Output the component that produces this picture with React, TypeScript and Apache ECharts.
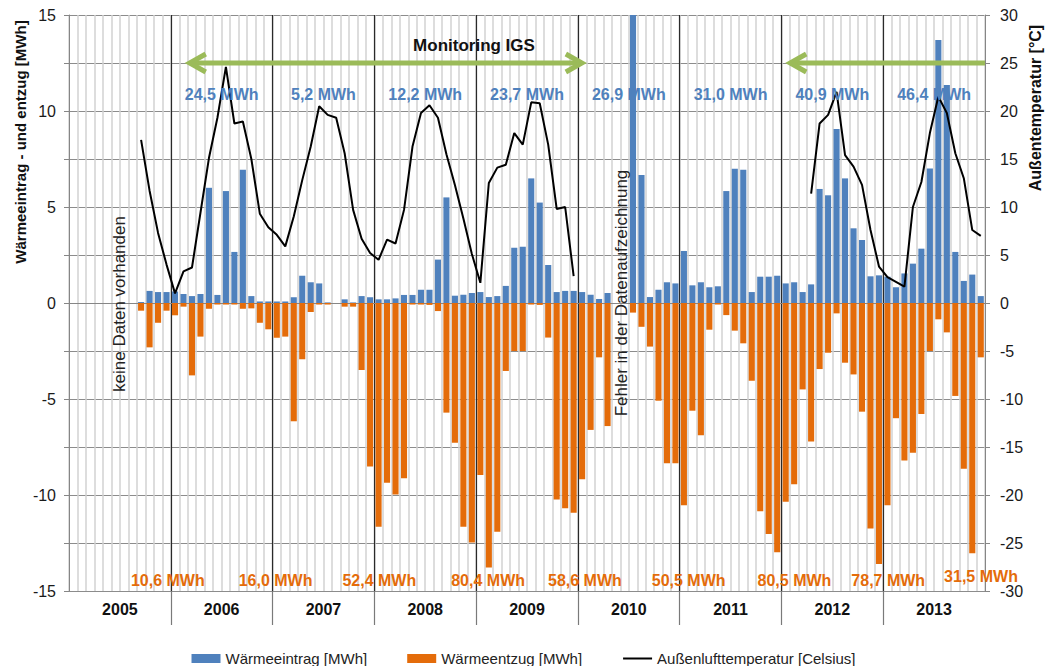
import React, { useEffect, useRef } from "react";
import * as echarts from "echarts";

const YEARS = ["2005", "2006", "2007", "2008", "2009", "2010", "2011", "2012", "2013"];
const MONTH_NAMES = ["Jan", "Feb", "Mär", "Apr", "Mai", "Jun", "Jul", "Aug", "Sep", "Okt", "Nov", "Dez"];
const MONTHS = YEARS.flatMap((y) => MONTH_NAMES.map((m) => `${m} ${y}`));

// Wärmeeintrag [MWh], monthly from Jan 2005
const WAERMEEINTRAG = [
  null, null, null, null, null, null, null, null, 0.05, 0.63, 0.57, 0.57,
  0.6, 0.47, 0.36, 0.47, 6.0, 0.42, 5.83, 2.66, 6.94, 0.36, 0.08, 0.08,
  0.08, 0.08, 0.3, 1.42, 1.08, 1.02, 0.03, 0, 0.19, 0.03, 0.36, 0.3,
  0.19, 0.19, 0.24, 0.42, 0.42, 0.69, 0.69, 2.26, 5.5, 0.38, 0.43, 0.52,
  0.57, 0.31, 0.36, 0.89, 2.88, 2.93, 6.49, 5.23, 1.98, 0.57, 0.63, 0.63,
  0.57, 0.43, 0.21, 0.52, 0, 0, 15.4, 6.67, 0.31, 0.69, 1.08, 1.02,
  2.71, 0.92, 1.08, 0.82, 0.87, 5.83, 6.99, 6.94, 0.57, 1.37, 1.37, 1.42,
  1.02, 1.08, 0.57, 0.97, 5.94, 5.61, 9.06, 6.49, 3.89, 3.28, 1.39, 1.44,
  1.37, 0.82, 1.54, 2.05, 2.83, 7.0, 13.7, 11.35, 2.66, 1.15, 1.48, 0.36,
];

// Wärmeentzug [MWh]
const WAERMEENTZUG = [
  null, null, null, null, null, null, null, null, -0.4, -2.31, -1.03, -0.4,
  -0.64, -0.19, -3.77, -1.75, -0.3, -0.08, -0.08, -0.08, -0.3, -0.28, -1.03, -1.37,
  -1.81, -1.75, -6.16, -2.93, -0.47, -0.08, -0.08, 0, -0.19, -0.19, -3.49, -8.51,
  -11.65, -9.36, -9.97, -9.13, -0.08, -0.08, -0.1, -0.42, -5.71, -7.28, -11.65, -12.48,
  -8.96, -13.77, -11.91, -3.54, -2.5, -2.5, -0.08, -0.1, -1.8, -10.24, -10.69, -10.92,
  -9.18, -6.61, -2.83, -6.41, 0, 0, -0.5, -1.24, -2.27, -5.09, -8.35, -8.35,
  -10.54, -5.61, -6.89, -1.39, -0.08, -0.63, -1.44, -2.1, -4.05, -10.85, -12.03, -12.98,
  -10.35, -9.44, -4.5, -7.22, -3.44, -2.59, -0.54, -3.11, -3.72, -5.66, -11.75, -13.59,
  -10.54, -6.0, -8.2, -7.8, -5.78, -2.5, -0.85, -1.53, -4.84, -8.63, -13.04, -2.83,
];

// Außenlufttemperatur [°C]
const TEMPERATUR = [
  null, null, null, null, null, null, null, null, 17.0, 11.7, 7.3, 4.0,
  1.0, 3.3, 3.7, 9.4, 15.1, 19.3, 24.6, 18.7, 18.9, 15.0, 9.3, 7.9,
  7.1, 5.9, 9.0, 12.8, 16.3, 20.5, 19.6, 19.3, 15.6, 9.7, 6.7, 5.2,
  4.5, 6.6, 6.2, 9.7, 16.3, 19.8, 20.6, 19.3, 15.5, 12.3, 8.8, 5.1,
  2.1, 12.5, 14.1, 14.4, 17.7, 16.5, 20.9, 20.8, 16.5, 9.8, 10.0, 2.8,
  null, null, null, null, null, null, null, null, null, null, null, null,
  null, null, null, null, null, null, null, null, null, null, null, null,
  null, null, null, 11.4, 18.7, 19.6, 22.0, 15.4, 14.2, 12.3, 7.6, 3.8,
  2.7, 2.2, 1.7, 10.0, 12.6, 17.7, 21.5, 19.8, 15.6, 13.0, 7.6, 7.0,
];

// yearly totals of heat input (2006 - 2013)
const EINTRAG_LABELS = ["24,5 MWh", "5,2 MWh", "12,2 MWh", "23,7 MWh", "26,9 MWh", "31,0 MWh", "40,9 MWh", "46,4 MWh"];
// seasonal totals of heat extraction (around each turn of the year 2005/06 ... 2013/14)
const ENTZUG_LABELS = ["10,6 MWh", "16,0 MWh", "52,4 MWh", "80,4 MWh", "58,6 MWh", "50,5 MWh", "80,5 MWh", "78,7 MWh", "31,5 MWh"];

const SERIES_NAMES = ["Wärmeeintrag [MWh]", "Wärmeentzug [MWh]", "Außenlufttemperatur [Celsius]"];

const BLUE = "#4f81bd";
const ORANGE = "#e46c0a";
const GREEN = "#9bbb59";
const FONT = "Liberation Sans";

const GRID_LEFT = 69;
const GRID_RIGHT = 62;
const GRID_TOP = 15;
const GRID_H = 576;
const W = 1047;
const GRID_W = W - GRID_LEFT - GRID_RIGHT;
const MONTH_W = GRID_W / MONTHS.length;
const ENTZUG_DX = [-3, 3, 5, 12, 7, 9, 13, 5, -4];
const ENTZUG_DY = [0, 0, 0, 0, 0, 0, 0, 0, -4];

const yPx = (v: number) => GRID_TOP + ((15 - v) / 30) * GRID_H;
const xMonth = (m: number) => GRID_LEFT + m * MONTH_W;

function buildGraphic() {
  const els: any[] = [];
  EINTRAG_LABELS.forEach((t, k) => {
    els.push({
      type: "text",
      x: xMonth(12 * (k + 1) + 6),
      y: 94,
      style: { text: t, fill: BLUE, font: `bold 16px "${FONT}"`, align: "center", verticalAlign: "middle" },
      z: 10,
    });
  });
  ENTZUG_LABELS.forEach((t, k) => {
    els.push({
      type: "text",
      x: xMonth(12 * (k + 1)) + ENTZUG_DX[k],
      y: 580 + ENTZUG_DY[k],
      style: { text: t, fill: ORANGE, font: `bold 16px "${FONT}"`, align: "center", verticalAlign: "middle" },
      z: 10,
    });
  });
  const ay = yPx(12.5);
  const lineStyle = { stroke: GREEN, lineWidth: 5, lineJoin: "miter" };
  // arrow 1 (both ends)
  const a1 = xMonth(14.0);
  const b1 = xMonth(60.7);
  els.push({ type: "line", shape: { x1: a1 + 2, y1: ay, x2: b1 - 2, y2: ay }, style: lineStyle, z: 10 });
  els.push({ type: "polyline", shape: { points: [[a1 + 18, ay - 9], [a1 + 2, ay], [a1 + 18, ay + 9]] }, style: lineStyle, z: 10 });
  els.push({ type: "polyline", shape: { points: [[b1 - 18, ay - 9], [b1 - 2, ay], [b1 - 18, ay + 9]] }, style: lineStyle, z: 10 });
  // arrow 2 (left end, runs to the right border)
  const a2 = xMonth(84.8);
  const b2 = xMonth(108);
  els.push({ type: "line", shape: { x1: a2 + 2, y1: ay, x2: b2, y2: ay }, style: lineStyle, z: 10 });
  els.push({ type: "polyline", shape: { points: [[a2 + 18, ay - 9], [a2 + 2, ay], [a2 + 18, ay + 9]] }, style: lineStyle, z: 10 });

  els.push({
    type: "text",
    x: 474,
    y: 45,
    style: { text: "Monitoring IGS", fill: "#111", font: `bold 17px "${FONT}"`, align: "center", verticalAlign: "middle" },
    z: 10,
  });
  els.push({
    type: "text",
    x: 119,
    y: 304,
    rotation: Math.PI / 2,
    style: { text: "keine Daten vorhanden", fill: "#222", font: `17px "${FONT}"`, align: "center", verticalAlign: "middle" },
    z: 10,
  });
  els.push({
    type: "text",
    x: 621,
    y: 293,
    rotation: Math.PI / 2,
    style: { text: "Fehler in der Datenaufzeichnung", fill: "#222", font: `17px "${FONT}"`, align: "center", verticalAlign: "middle" },
    z: 10,
  });
  els.push({
    type: "text",
    x: 20,
    y: 142,
    rotation: Math.PI / 2,
    style: { text: "Wärmeeintrag - und entzug [MWh]", fill: "#111", font: `bold 15px "${FONT}"`, align: "center", verticalAlign: "middle" },
  });
  els.push({
    type: "text",
    x: 1035,
    y: 108,
    rotation: Math.PI / 2,
    style: { text: "Außentemperatur [°C]", fill: "#111", font: `bold 16px "${FONT}"`, align: "center", verticalAlign: "middle" },
  });
  return els;
}

export default function App() {
  const ref = useRef<HTMLDivElement>(null);
  useEffect(() => {
    const chart = echarts.init(ref.current!, null, { renderer: "svg" });
    const option: any = {
      animation: false,
      backgroundColor: "#fff",
      textStyle: { fontFamily: FONT },
      grid: [
        { left: GRID_LEFT, right: GRID_RIGHT, top: GRID_TOP, height: GRID_H },
        { left: GRID_LEFT, right: GRID_RIGHT, top: GRID_TOP + GRID_H, height: 34 },
      ],
      legend: {
        top: 646,
        left: "center",
        itemWidth: 29,
        itemHeight: 9,
        itemGap: 40,
        textStyle: { fontSize: 15, fontFamily: FONT, color: "#222" },
        data: [
          { name: SERIES_NAMES[0], icon: "rect" },
          { name: SERIES_NAMES[1], icon: "rect" },
          { name: SERIES_NAMES[2], itemStyle: { opacity: 0 } },
        ],
      },
      xAxis: [
        {
          type: "category",
          gridIndex: 0,
          data: MONTHS,
          position: "bottom",
          axisLine: { show: true, lineStyle: { color: "#868686", width: 1 } },
          axisTick: { show: false },
          axisLabel: { show: false },
          splitLine: { show: true, interval: 0, lineStyle: { color: "#d2d2d2", width: 1.5 } },
        },
        {
          type: "category",
          gridIndex: 0,
          data: YEARS,
          position: "top",
          axisLine: { show: false },
          axisTick: { show: false },
          axisLabel: { show: false },
          splitLine: { show: true, showMinLine: false, showMaxLine: false, lineStyle: { color: "#2a2a2a", width: 1.2 } },
        },
        {
          type: "category",
          gridIndex: 1,
          data: YEARS,
          position: "top",
          axisLine: { show: false },
          axisTick: { show: false },
          axisLabel: { show: true, inside: true, margin: 10, fontSize: 16, fontWeight: "bold", color: "#111", fontFamily: FONT },
          splitLine: { show: true, showMinLine: false, showMaxLine: false, lineStyle: { color: "#7a7a7a", width: 1.2 } },
        },
      ],
      yAxis: [
        {
          type: "value",
          gridIndex: 0,
          min: -15,
          max: 15,
          interval: 2.5,
          axisLine: { show: true, lineStyle: { color: "#868686" } },
          axisTick: { show: true, length: 5, lineStyle: { color: "#868686" } },
          axisLabel: {
            margin: 13,
            fontSize: 16,
            color: "#1a1a1a",
            fontFamily: FONT,
            formatter: (v: number) => (v % 5 === 0 ? String(v) : ""),
          },
          splitLine: { show: true, lineStyle: { color: "#8c8c8c", width: 1 } },
        },
        {
          type: "value",
          gridIndex: 0,
          position: "right",
          min: -30,
          max: 30,
          interval: 5,
          axisLine: { show: true, lineStyle: { color: "#868686" } },
          axisTick: { show: true, length: 5, lineStyle: { color: "#868686" } },
          axisLabel: { margin: 15, fontSize: 16, color: "#1a1a1a", fontFamily: FONT },
          splitLine: { show: false },
        },
        { type: "value", gridIndex: 1, show: false, min: 0, max: 1 },
      ],
      series: [
        {
          name: SERIES_NAMES[0],
          type: "bar",
          xAxisIndex: 0,
          yAxisIndex: 0,
          data: WAERMEEINTRAG,
          barWidth: "72%",
          barGap: "-100%",
          clip: true,
          itemStyle: { color: BLUE },
          z: 3,
        },
        {
          name: SERIES_NAMES[1],
          type: "bar",
          xAxisIndex: 0,
          yAxisIndex: 0,
          data: WAERMEENTZUG,
          barWidth: "72%",
          barGap: "-100%",
          clip: true,
          itemStyle: { color: ORANGE },
          z: 3,
        },
        {
          name: SERIES_NAMES[2],
          type: "line",
          xAxisIndex: 0,
          yAxisIndex: 1,
          data: TEMPERATUR,
          symbol: "none",
          connectNulls: false,
          lineStyle: { color: "#000", width: 2 },
          itemStyle: { color: "#000" },
          z: 5,
        },
      ],
      graphic: buildGraphic(),
    };
    chart.setOption(option);
    return () => chart.dispose();
  }, []);
  return (
    <div
      ref={ref}
      style={{ position: "fixed", left: 0, top: 0, width: 1047, height: 666, background: "#fff" }}
    />
  );
}
